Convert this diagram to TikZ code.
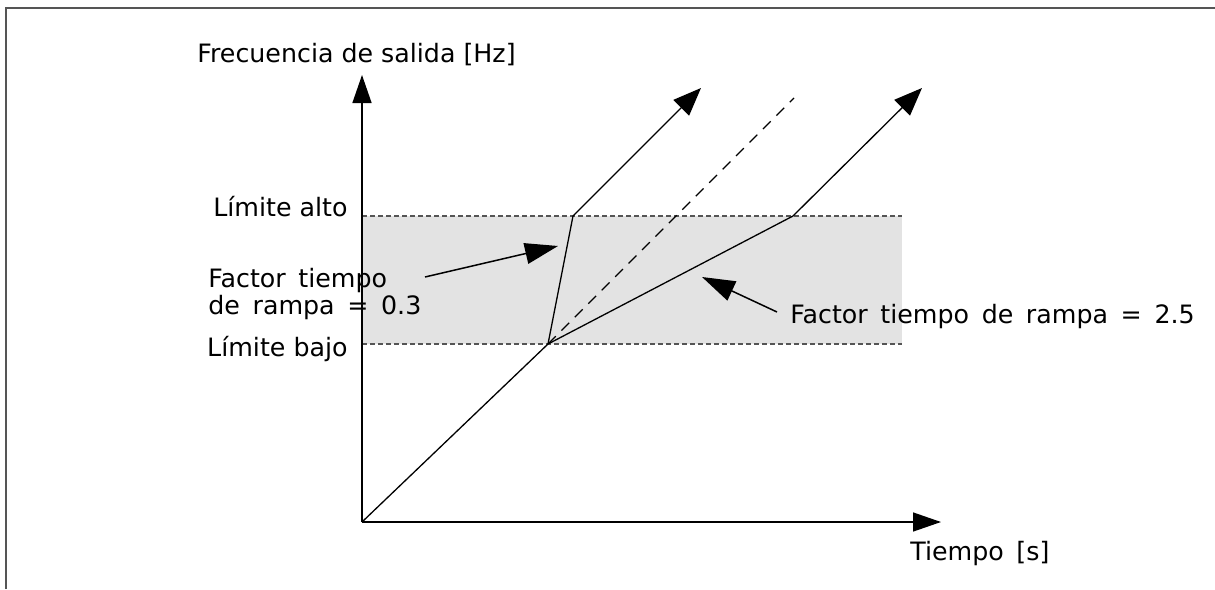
\documentclass[tikz,border=0pt]{standalone}
\usepackage{fontspec}
\setmainfont{DejaVu Sans}
\usetikzlibrary{arrows.meta}
\definecolor{bandgray}{HTML}{E3E3E3}
\definecolor{framegray}{HTML}{555555}
\newcommand{\lblfont}{\fontsize{12.65}{13.5}\selectfont}
\newcommand{\widelblfont}{\fontsize{12.65}{13.5}\selectfont\spaceskip=6.3pt plus 0pt minus 0pt\relax}
\begin{document}
\begin{tikzpicture}[x=0.5pt,y=-0.5pt,
  lbl/.style={inner sep=0pt,font=\lblfont},
  widelbl/.style={inner sep=0pt,font=\widelblfont},
  axis/.style={line width=0.7pt,-{Triangle[length=14pt,width=9.5pt]}},
  ramp/.style={line width=0.65pt},
  ramparrow/.style={line width=0.65pt,-{Triangle[length=14pt,width=11pt]}},
  annot/.style={line width=0.75pt,-{Triangle[length=16.5pt,width=10.5pt]}},
  limit/.style={line width=0.6pt,framegray,dash pattern=on 2.5pt off 1.5pt},
  diag/.style={line width=0.6pt,dash pattern=on 5.5pt off 4pt}]
\useasboundingbox (0,0) rectangle (1215,589);
% frame
\draw[framegray,line width=0.8pt] (6,589) -- (6,8) -- (1215,8);
% coordinates
\coordinate (O) at (362,522);
\coordinate (Ytip) at (362,75);
\coordinate (Xtip) at (941,522);
\coordinate (L) at (548,344);
\coordinate (K1) at (573,216);
\coordinate (A1) at (701,88);
\coordinate (D) at (794,98);
\coordinate (K2) at (793,216);
\coordinate (A2) at (922,88);
\coordinate (HiL) at (362,216);
\coordinate (HiR) at (902,216);
\coordinate (LoL) at (362,344);
\coordinate (LoR) at (902,344);
\coordinate (s1) at (425,277);
\coordinate (t1) at (558,246);
\coordinate (s2) at (777,312);
\coordinate (t2) at (702,277);
% band
\fill[bandgray] (HiL) rectangle (LoR);
\draw[limit] (HiL) -- (HiR);
\draw[limit] (LoL) -- (LoR);
% axes
\draw[axis] (O) -- (Ytip);
\draw[axis] (O) -- (Xtip);
% ramps
\draw[ramp] (O) -- (L);
\draw[ramparrow] (L) -- (K1) -- (A1);
\draw[diag] (L) -- (D);
\draw[ramparrow] (L) -- (K2) -- (A2);
% annotation arrows
\draw[annot] (s1) -- (t1);
\draw[annot] (s2) -- (t2);
% labels
\node[lbl,anchor=base west] (freq) at (197,62) {Frecuencia de salida [Hz]};
\node[widelbl,anchor=base west] (tiempo) at (910,560) {Tiempo [s]};
\node[lbl,anchor=base east] (alto) at (348,216) {Límite alto};
\node[lbl,anchor=base east] (bajo) at (348,356) {Límite bajo};
\node[widelbl,anchor=base west] (fa) at (208,287) {Factor tiempo};
\node[widelbl,anchor=base west] (fb) at (208,314) {de rampa = 0.3};
\node[widelbl,anchor=base west] (fc) at (790,323) {Factor tiempo de rampa = 2.5};
\end{tikzpicture}
\end{document}
